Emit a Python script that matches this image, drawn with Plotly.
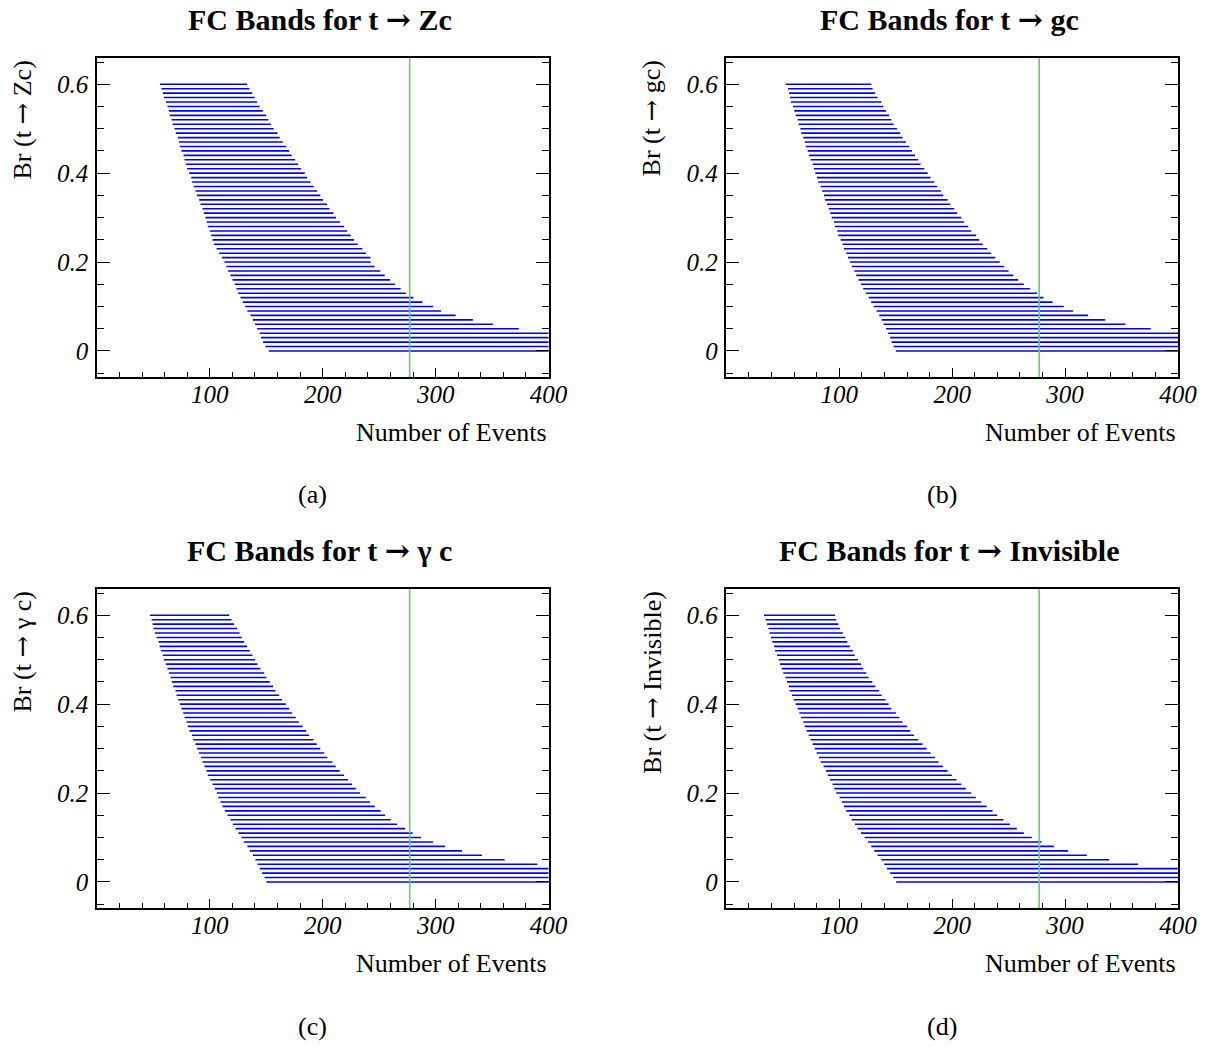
import plotly.graph_objects as go

# ---------------- data ----------------
br = [0.60, 0.59, 0.58, 0.57, 0.56, 0.55, 0.54, 0.53, 0.52, 0.51,
      0.50, 0.49, 0.48, 0.47, 0.46, 0.45, 0.44, 0.43, 0.42, 0.41,
      0.40, 0.39, 0.38, 0.37, 0.36, 0.35, 0.34, 0.33, 0.32, 0.31,
      0.30, 0.29, 0.28, 0.27, 0.26, 0.25, 0.24, 0.23, 0.22, 0.21,
      0.20, 0.19, 0.18, 0.17, 0.16, 0.15, 0.14, 0.13, 0.12, 0.11,
      0.10, 0.09, 0.08, 0.07, 0.06, 0.05, 0.04, 0.03, 0.02, 0.01,
      0.00]

zc_lo = [55.8, 57.2, 58.4, 59.3, 61.1, 62.5, 63.7, 64.6, 66.1, 67.0,
         68.7, 69.9, 71.7, 72.6, 73.5, 74.9, 76.7, 77.6, 78.8, 79.9,
         81.7, 83.5, 84.4, 85.8, 87.3, 88.5, 90.6, 91.7, 93.5, 94.7,
         96.2, 97.3, 98.2, 100.0, 101.2, 102.4, 103.8, 106.0, 108.3, 110.7,
         113.0, 114.7, 116.2, 118.3, 120.1, 122.1, 123.6, 125.1, 127.1, 129.2,
         131.3, 133.3, 136.0, 138.1, 140.1, 141.9, 144.2, 145.4, 147.2, 149.3,
         152.2]
zc_hi = [133.0, 135.1, 137.5, 139.8, 141.9, 144.0, 146.9, 149.9, 151.9, 154.0,
         156.6, 159.9, 161.9, 164.6, 167.6, 170.2, 172.6, 175.5, 178.2, 180.8,
         184.1, 186.1, 189.1, 192.0, 195.0, 197.9, 200.3, 203.8, 205.9, 209.4,
         211.8, 215.3, 218.9, 221.5, 224.8, 227.7, 231.0, 235.1, 238.3, 242.2,
         242.5, 246.0, 251.0, 254.9, 259.6, 264.0, 269.0, 273.7, 280.2, 288.2,
         297.6, 304.7, 317.7, 333.0, 350.7, 373.7, 420.0, 420.0, 420.0, 420.0,
         420.0]

gc_lo = [52.5, 54.6, 55.5, 56.3, 57.2, 59.0, 60.2, 61.4, 63.1, 64.0,
         65.5, 66.4, 68.1, 69.3, 70.5, 72.0, 73.2, 74.6, 76.4, 77.6,
         78.8, 80.2, 81.4, 83.5, 84.7, 86.4, 87.3, 89.1, 90.6, 92.0,
         93.2, 95.3, 96.2, 98.2, 99.1, 101.2, 102.9, 104.1, 106.2, 107.7,
         109.4, 111.2, 113.3, 115.0, 117.1, 119.2, 121.2, 123.6, 126.0, 128.3,
         130.4, 133.0, 135.4, 137.5, 139.2, 141.3, 143.4, 145.1, 146.3, 148.1,
         150.1]
gc_hi = [128.3, 129.5, 131.6, 133.9, 137.2, 138.9, 141.3, 144.0, 146.0, 148.1,
         151.0, 154.0, 156.0, 159.0, 161.9, 164.3, 167.0, 169.9, 172.0, 175.2,
         178.2, 180.8, 184.1, 186.7, 190.0, 192.0, 195.9, 198.2, 201.8, 204.4,
         208.0, 210.6, 214.2, 216.8, 221.2, 223.9, 227.1, 231.0, 234.2, 238.1,
         242.2, 246.0, 249.9, 254.0, 258.4, 263.4, 269.0, 275.2, 280.8, 288.8,
         298.8, 307.1, 320.4, 335.4, 353.4, 375.8, 420.0, 420.0, 420.0, 420.0,
         420.0]

gamc_lo = [46.9, 48.4, 49.3, 50.1, 51.3, 52.8, 54.6, 55.5, 56.9, 58.4,
           59.3, 61.1, 62.5, 63.7, 65.2, 66.4, 67.6, 69.6, 70.5, 72.0,
           73.5, 74.9, 76.4, 77.6, 79.4, 80.5, 82.0, 84.1, 85.3, 87.3,
           88.8, 90.3, 92.3, 93.5, 95.3, 97.1, 98.2, 100.3, 102.4, 104.4,
           106.2, 107.4, 109.4, 111.2, 113.3, 115.6, 118.3, 120.6, 122.7, 125.4,
           128.0, 130.1, 133.3, 135.4, 138.1, 140.4, 142.2, 144.2, 146.3, 148.4,
           150.1]
gamc_hi = [117.1, 119.2, 121.5, 124.2, 126.3, 128.3, 130.4, 133.0, 135.4, 137.8,
           140.1, 142.2, 144.8, 148.1, 150.1, 153.1, 156.0, 158.1, 161.4, 164.0,
           167.3, 170.2, 172.9, 176.1, 178.8, 182.0, 185.3, 187.9, 191.7, 194.7,
           197.9, 201.2, 204.1, 208.6, 211.5, 215.0, 218.9, 222.4, 226.0, 229.2,
           233.0, 238.1, 241.9, 246.0, 251.3, 255.2, 260.2, 265.8, 272.9, 279.6,
           287.0, 297.6, 308.3, 323.3, 341.0, 361.1, 390.0, 420.0, 420.0, 420.0,
           420.0]

inv_lo = [33.3, 34.8, 36.0, 37.2, 38.3, 39.5, 40.7, 42.2, 43.1, 44.8,
          46.3, 47.5, 49.0, 50.4, 52.2, 53.7, 55.2, 56.0, 58.1, 59.6,
          61.4, 63.1, 64.6, 66.1, 68.1, 69.3, 71.1, 72.9, 74.6, 76.4,
          78.2, 79.9, 82.0, 83.5, 86.1, 88.2, 89.7, 91.7, 94.1, 95.6,
          97.3, 100.3, 102.1, 104.1, 106.2, 108.8, 110.9, 113.9, 116.2, 119.2,
          122.4, 125.4, 128.3, 131.0, 133.9, 137.2, 139.8, 142.2, 145.1, 147.8,
          150.4]
inv_hi = [96.2, 97.3, 99.1, 100.6, 103.2, 105.3, 107.1, 109.4, 112.1, 113.6,
          116.5, 119.2, 121.2, 123.9, 126.0, 129.2, 131.9, 135.1, 137.5, 141.0,
          143.7, 146.0, 150.1, 153.1, 156.0, 159.9, 162.8, 166.1, 169.9, 173.7,
          177.3, 180.8, 184.7, 187.9, 191.7, 195.9, 199.7, 203.8, 208.0, 212.1,
          216.8, 220.9, 225.7, 230.4, 235.7, 239.8, 245.4, 251.0, 257.2, 263.4,
          270.5, 279.1, 290.0, 302.7, 319.2, 338.9, 364.6, 420.0, 420.0, 420.0,
          420.0]

observed_events = 277

ARROW = '<span style="font-family:DejaVu Serif">\u2192</span>'
titles = ["FC Bands for t " + ARROW + " Zc", "FC Bands for t " + ARROW + " gc",
          "FC Bands for t " + ARROW + " \u03b3 c",
          "FC Bands for t " + ARROW + " Invisible"]
ylabels = ["Br (t " + ARROW + " Zc)", "Br (t " + ARROW + " gc)",
           "Br (t " + ARROW + " \u03b3 c)", "Br (t " + ARROW + " Invisible)"]
captions = ["(a)", "(b)", "(c)", "(d)"]
xlabel = "Number of Events"
x_tickvals = [100, 200, 300, 400]
x_ticktext = ["100", "200", "300", "400"]
y_tickvals = [0, 0.2, 0.4, 0.6]
y_ticktext = ["0", "0.2", "0.4", "0.6"]

bands = [(zc_lo, zc_hi), (gc_lo, gc_hi), (gamc_lo, gamc_hi), (inv_lo, inv_hi)]

# ---------------- layout geometry ----------------
VIEW_W, VIEW_H = 1223, 1047  # effective css viewport observed in renders
SX = VIEW_W / 1205
W, H = VIEW_W, VIEW_H
FONT = "Liberation Serif"
BLUE = "#0000ff"
GREEN = "#5fd35f"

# pixel frames of each panel in picture coords: (left, right, top, bottom)
frames = [(97, 549, 58, 377), (727, 1179, 58, 377),
          (97, 549, 589, 908), (727, 1179, 589, 908)]


def px_x(p):
    return (p * SX) / W


def px_y(p):
    return 1 - p / H


fig = go.Figure()
annotations = []
shapes = []

for i, ((lo, hi), (l, r, t, b)) in enumerate(zip(bands, frames)):
    n = i + 1
    xs, ys = [], []
    for a, c, yv in zip(lo, hi, br):
        xs += [a, c, None]
        ys += [yv, yv, None]
    xa = "x" if n == 1 else f"x{n}"
    ya = "y" if n == 1 else f"y{n}"
    fig.add_trace(go.Scatter(x=xs, y=ys, mode="lines",
                             line=dict(color=BLUE, width=1.6),
                             xaxis=xa, yaxis=ya, showlegend=False,
                             hoverinfo="skip"))
    xkey = "xaxis" if n == 1 else f"xaxis{n}"
    ykey = "yaxis" if n == 1 else f"yaxis{n}"
    fig.layout[xkey] = dict(
        domain=[px_x(l), px_x(r)], anchor=ya, range=[0, 400],
        showgrid=False, zeroline=False, showline=True, linecolor="black",
        linewidth=1.5, mirror=True, ticks="inside", ticklen=9, tickwidth=1.3,
        tickcolor="black", tickvals=x_tickvals, ticktext=x_ticktext,
        ticklabelstandoff=-6,
        tickfont=dict(family=FONT, size=25, color="black", style="italic"),
        minor=dict(dtick=20, tick0=0, ticks="inside", ticklen=5,
                   tickwidth=1.1, tickcolor="black", showgrid=False),
    )
    fig.layout[ykey] = dict(
        domain=[px_y(b), px_y(t)], anchor=xa, range=[-0.0585, 0.659],
        showgrid=False, zeroline=False, showline=True, linecolor="black",
        linewidth=1.5, mirror="ticks", ticks="inside", ticklen=13,
        tickwidth=1.3, tickcolor="black", tickvals=y_tickvals,
        ticktext=y_ticktext, ticklabelstandoff=2,
        tickfont=dict(family=FONT, size=25, color="black", style="italic"),
        minor=dict(dtick=0.05, tick0=0, ticks="inside", ticklen=7,
                   tickwidth=1.1, tickcolor="black", showgrid=False),
    )
    shapes.append(dict(type="line", xref=xa, yref=f"{ya} domain",
                       x0=observed_events, x1=observed_events, y0=0, y1=1,
                       line=dict(color=GREEN, width=1.6), layer="above"))
    cx = (l + r) / 2
    # title
    annotations.append(dict(text=f"<b>{titles[i]}</b>", xref="paper",
                            yref="paper", x=px_x(cx - 3), y=px_y(t - 39),
                            xanchor="center", yanchor="middle",
                            showarrow=False,
                            font=dict(family=FONT, size=30, color="black")))
    # y label (rotated, top aligned)
    annotations.append(dict(text=ylabels[i], xref="paper", yref="paper",
                            x=px_x(l - 75), y=px_y(t), textangle=-90,
                            xanchor="center", yanchor="top", showarrow=False,
                            font=dict(family=FONT, size=26, color="black")))
    # x label
    annotations.append(dict(text=xlabel, xref="paper", yref="paper",
                            x=px_x(r), y=px_y(b + 55), xanchor="right",
                            yanchor="middle", showarrow=False,
                            font=dict(family=FONT, size=26, color="black")))
    # caption
    annotations.append(dict(text=captions[i], xref="paper", yref="paper",
                            x=px_x(cx - 10), y=px_y(b + 118), xanchor="center",
                            yanchor="middle", showarrow=False,
                            font=dict(family=FONT, size=26, color="black")))

fig.update_layout(width=W, height=H, margin=dict(l=0, r=0, t=0, b=0),
                  plot_bgcolor="white", paper_bgcolor="white",
                  annotations=annotations, shapes=shapes, showlegend=False)

fig.write_html("out.html",
               config={"displayModeBar": False, "responsive": False},
               post_script="document.body.style.margin='0';"
                           "document.body.style.overflow='hidden';")
